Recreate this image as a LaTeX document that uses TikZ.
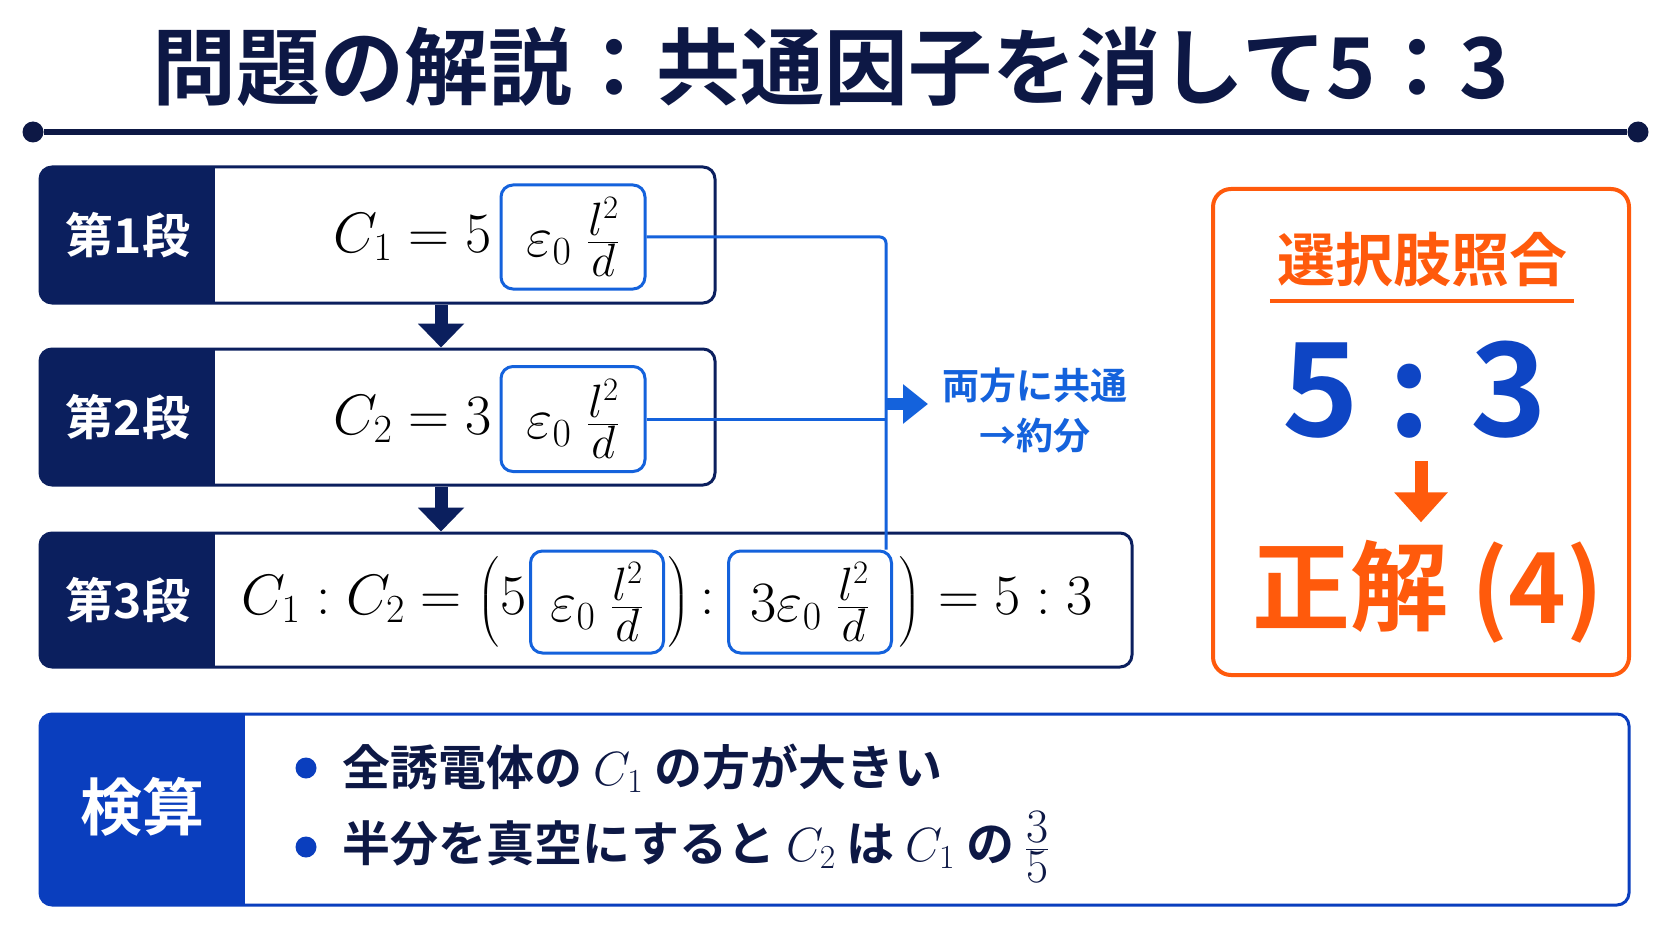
\documentclass[tikz,border=0pt]{standalone}
\usepackage{fix-cm}
\usepackage{amsmath}
\usepackage{graphicx}
\usepackage{fontspec}
\newfontfamily\jpfont{Noto Sans CJK JP}[BoldFont={Noto Sans CJK JP Bold}]
\usepackage{tikz}
\usetikzlibrary{positioning,arrows.meta}

\definecolor{titlenavy}{HTML}{0D1845}
\definecolor{stagenavy}{HTML}{0B1F5E}
\definecolor{checkblue}{HTML}{0A3EBE}
\definecolor{hlblue}{HTML}{1462DC}
\definecolor{ansblue}{HTML}{0E45C4}
\definecolor{ansorange}{HTML}{FF5A0C}

\newcommand{\mathsz}{\fontsize{57pt}{62pt}\selectfont}
\newcommand{\jpsz}[1]{\jpfont\bfseries\fontsize{#1pt}{#1pt}\selectfont}
\newcommand{\ldfrac}{\raisebox{2pt}{\scalebox{0.82}{$\frac{\textstyle l^2}{\textstyle d}$}}}
\newcommand{\midparen}[1]{\scalebox{1}[0.86]{$\left#1\vcenter to 100pt{}\right.$}}

\tikzset{
  stageframe/.style={draw=stagenavy, line width=3pt, rounded corners=12pt, inner sep=0pt},
  stagelabel/.style={text=white, font=\jpsz{48}, inner sep=0pt},
  hlbox/.style={draw=hlblue, line width=3pt, rounded corners=12pt, fill=white, inner sep=0pt, font=\mathsz},
  eqtext/.style={font=\mathsz, inner sep=0pt},
  hlline/.style={draw=hlblue, line width=3pt},
  blockarrow/.style={line width=13pt, -{Triangle[width=45pt,length=24pt]}},
  itemtext/.style={text=titlenavy, font=\jpsz{48}, inner sep=0pt, anchor=west},
  bulletdot/.style={circle, fill=checkblue, minimum size=21pt, inner sep=0pt},
  ruledot/.style={circle, fill=titlenavy, minimum size=21pt, inner sep=0pt}
}

\newcommand{\stagerow}[5]{
  \pgfmathsetmacro\midy{(#2+#3)/2}
  \pgfmathsetmacro\midx{(40+#4)/2}
  \begin{scope}
    \clip [rounded corners=12pt] (40,#2) rectangle (#4,#3);
    \fill [white] (40,#2) rectangle (#4,#3);
    \fill [stagenavy] (40,#2) rectangle (215,#3);
  \end{scope}
  \node [stageframe, minimum width={#4-40}, minimum height={#3-#2}] (#1) at (\midx,\midy) {};
  \node [stagelabel] (#1lab) at (128,\midy) {#5};
}

\begin{document}
\begin{tikzpicture}[x=1pt, y=-1pt]
  \fill [white] (0,0) rectangle (1672,941);

  \node [text=titlenavy, font=\jpsz{84}, inner sep=0pt] (title) at (831,67) {問題の解説：共通因子を消して5：3};
  \node [ruledot] (rulel) at (33,132) {};
  \node [ruledot] (ruler) at (1638,132) {};
  \draw [titlenavy, line width=6pt] (rulel) -- (ruler);

  \stagerow{s1}{167}{303}{715}{第1段}
  \stagerow{s2}{349}{485}{715}{第2段}
  \stagerow{s3}{533}{667}{1132}{第3段}

  \coordinate (ax) at (441,0);
  \draw [stagenavy, blockarrow] (s1.south -| ax) -- (s2.north -| ax);
  \draw [stagenavy, blockarrow] (s2.south -| ax) -- (s3.north -| ax);

  \node [hlbox, minimum width=144pt, minimum height=104pt] (f1) at (573,237) {$\varepsilon_0\;\ldfrac$};
  \node [eqtext, left=8pt of f1] (e1) {$C_1 = 5$};
  \node [hlbox, minimum width=144pt, minimum height=105pt] (f2) at (573,419) {$\varepsilon_0\;\ldfrac$};
  \node [eqtext, left=8pt of f2] (e2) {$C_2 = 3$};

  \node [hlbox, minimum width=133pt, minimum height=102pt] (g1) at (597,602) {$\varepsilon_0\;\ldfrac$};
  \node [hlbox, minimum width=163pt, minimum height=102pt] (g2) at (810,602) {$3\varepsilon_0\;\ldfrac$};
  \node [eqtext, left=2pt of g1] (e3a) {$C_1 : C_2 = \midparen{(}5$};
  \node [eqtext, right=3pt of g1] (e3b) {$\midparen{)}\,{:}$};
  \node [eqtext, right=6pt of g2] (e3c) {$\midparen{)} = 5 : 3$};

  \coordinate (jn) at (886,241);
  \coordinate (ja) at (886,404);
  \draw [hlline, rounded corners=6pt] (f1.east) -- (f1.east -| jn) -- (g2.north -| jn);
  \draw [hlline] (f2.east) -- (f2.east -| jn);
  \node [text=hlblue, font=\jpsz{37}, align=center, inner sep=0pt, anchor=west] (note) at (942,410) {両方に共通\\[13pt]→約分};
  \draw [hlblue, line width=12pt, -{Triangle[width=38pt,length=25pt]}, shorten >=14pt] (ja) -- (ja -| note.west);

  \node [draw=ansorange, line width=4pt, rounded corners=18pt, minimum width=416pt, minimum height=486pt] (ans) at (1421,432) {};
  \node [text=ansorange, font=\jpsz{58}, inner sep=0pt] (anshead) at (1422,260) {選択肢照合};
  \draw [ansorange, line width=4pt] ([xshift=-7pt, yshift=-13pt]anshead.south west) -- ([xshift=7pt, yshift=-13pt]anshead.south east);
  \node [text=ansblue, font=\jpsz{130}, inner sep=0pt] (ratio) at (1415,390) {5 : 3};
  \node [text=ansorange, font=\jpsz{98}, inner sep=0pt] (correct) at (1428,592) {正解 (4)};
  \draw [ansorange, line width=13pt, -{Triangle[width=52pt,length=30pt]}, shorten <=22pt, shorten >=18pt] (ratio.south -| ans) -- (correct.north -| ans);

  \begin{scope}
    \clip [rounded corners=12pt] (40,714) rectangle (1629,905);
    \fill [white] (40,714) rectangle (1629,905);
    \fill [checkblue] (40,714) rectangle (245,905);
  \end{scope}
  \node [draw=checkblue, line width=3pt, rounded corners=12pt, minimum width=1589pt, minimum height=191pt] (check) at (834.5,809.5) {};
  \node [text=white, font=\jpsz{62}, inner sep=0pt] (checklab) at (142,807) {検算};
  \node [bulletdot] (bul1) at (306,768) {};
  \node [bulletdot] (bul2) at (306,847) {};
  \node [itemtext, right=26pt of bul1] (item1) {全誘電体の $C_1$ の方が大きい};
  \node [itemtext, right=26pt of bul2] (item2) {半分を真空にすると $C_2$ は $C_1$ の $\frac{\textstyle 3}{\textstyle 5}$};
%  \node [itemtext] at (343,900) {};
\end{tikzpicture}
\end{document}
